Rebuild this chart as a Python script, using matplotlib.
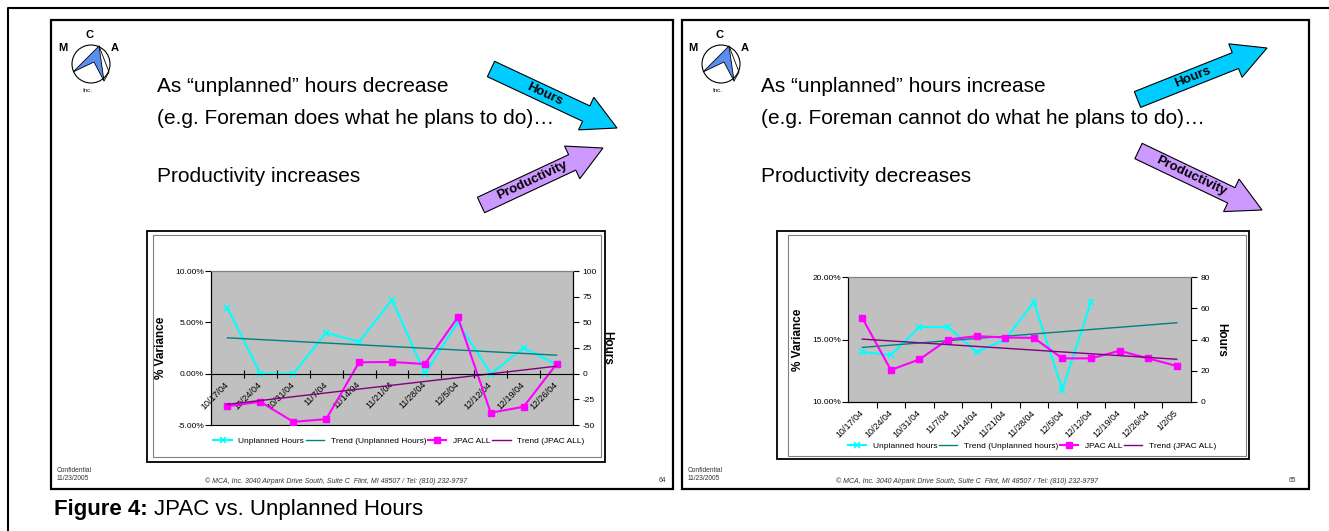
import numpy as np
import matplotlib
matplotlib.use("Agg")
import matplotlib.pyplot as plt
from matplotlib.patches import Rectangle, Circle, Polygon, FancyArrow

plt.rcParams["font.family"] = ["Liberation Sans", "DejaVu Sans"]

W, H = 1329, 531

# slide 64 data (weekly)
left_dates = ["10/17/04", "10/24/04", "10/31/04", "11/7/04", "11/14/04", "11/21/04",
              "11/28/04", "12/5/04", "12/12/04", "12/19/04", "12/26/04"]
left_unplanned = [64, 0, 0, 40, 31, 72, 0, 50, 0, 25, 9]
left_jpac = [-3.16, -2.74, -4.69, -4.43, 1.11, 1.14, 0.94, 5.50, -3.81, -3.22, 0.94]

# slide 65 data (weekly)
right_dates = ["10/17/04", "10/24/04", "10/31/04", "11/7/04", "11/14/04", "11/21/04",
               "11/28/04", "12/5/04", "12/12/04", "12/19/04", "12/26/04", "1/2/05"]
right_unplanned = [32, 30, 48, 48, 32, 40, 64, 8, 64, None, None, None]
right_jpac = [16.72, 12.56, 13.41, 15.00, 15.27, 15.16, 15.13, 13.49, 13.49, 14.10, 13.49, 12.88]

CYAN = "#00FFFF"
TEAL = "#008080"
MAGENTA = "#FF00FF"
PURPLE = "#800080"

fig = plt.figure(figsize=(W / 100, H / 100), dpi=100)
bg = fig.add_axes([0, 0, 1, 1])
bg.set_xlim(0, W)
bg.set_ylim(H, 0)
bg.axis("off")


def box(x0, y0, x1, y1, lw=1.5, color="black"):
    bg.add_patch(Rectangle((x0, y0), x1 - x0, y1 - y0, fill=False, lw=lw, ec=color))


def px_axes(x0, y0, x1, y1):
    return fig.add_axes([x0 / W, 1 - y1 / H, (x1 - x0) / W, (y1 - y0) / H])


def logo(ox):
    bg.add_patch(Circle((91 + ox, 64), 19, fill=False, lw=0.8, ec="black"))
    bg.add_patch(Polygon([(99 + ox, 46), (73 + ox, 72), (94 + ox, 62), (104 + ox, 81)],
                         closed=True, fc="#5B8DEF", ec="black", lw=0.6))
    bg.plot([99 + ox, 109 + ox, 104 + ox], [46, 72, 81], color="black", lw=0.6)
    bg.text(63 + ox, 48, "M", fontsize=8, fontweight="bold", ha="center", va="center")
    bg.text(89 + ox, 35, "C", fontsize=8, fontweight="bold", ha="center", va="center")
    bg.text(115 + ox, 48, "A", fontsize=8, fontweight="bold", ha="center", va="center")
    bg.text(87 + ox, 90, "Inc.", fontsize=4.5, ha="center", va="center")


def arrow(tail, tip, color, label, shaft=17, head_w=36, head_l=34):
    dx, dy = tip[0] - tail[0], tip[1] - tail[1]
    bg.add_patch(FancyArrow(tail[0], tail[1], dx, dy, width=shaft, head_width=head_w,
                            head_length=head_l, length_includes_head=True,
                            fc=color, ec="black", lw=0.8))
    L = np.hypot(dx, dy)
    frac = (L - head_l) / 2 / L + 0.05
    ang = -np.degrees(np.arctan2(dy, dx))
    bg.text(tail[0] + dx * frac, tail[1] + dy * frac, label, fontsize=9.5,
            fontweight="bold", rotation=ang, rotation_mode="anchor",
            ha="center", va="center")


def footer(ox, page, center):
    bg.text(57 + ox, 470, "Confidential", fontsize=4.8, color="#333333", va="center")
    bg.text(57 + ox, 478, "11/23/2005", fontsize=4.8, color="#333333", va="center")
    bg.text(center, 481, "\u00a9 MCA, Inc. 3040 Airpark Drive South, Suite C  Flint, MI 48507 / Tel: (810) 232-9797",
            fontsize=5, style="italic", color="#333333", ha="center", va="center")
    bg.text(page[0], 481, page[1], fontsize=4.8, color="#333333", ha="center", va="center")


def chart(frame, inner, plot, dates, unplanned, jpac, ylim, yticks, y2lim, y2ticks,
          zero_axis, names, legend_xy):
    box(*frame, lw=1.3)
    box(*inner, lw=0.8, color="#808080")
    ax = px_axes(*plot)
    ax2 = ax.twinx()
    ax.set_zorder(ax2.get_zorder() + 1)
    ax.patch.set_visible(False)
    ax2.patch.set_visible(True)
    ax2.set_facecolor("#C0C0C0")
    if zero_axis:
        # category axis crosses at 0 %
        ax.spines["bottom"].set_position(("data", 0))
        ax2.spines["bottom"].set_linewidth(1.2)
    n = len(dates)
    x = np.arange(n)

    uh = np.array([np.nan if v is None else v for v in unplanned], dtype=float)
    ok = ~np.isnan(uh)
    l1, = ax2.plot(x, uh, color=CYAN, lw=1.5, marker="x", ms=5, mew=1.2)
    c = np.polyfit(x[ok], uh[ok], 1)
    l2, = ax2.plot([0, n - 1], np.polyval(c, [0, n - 1]), color=TEAL, lw=1)

    jp = np.array(jpac, dtype=float)
    l3, = ax.plot(x, jp, color=MAGENTA, lw=1.5, marker="s", ms=4.5)
    c = np.polyfit(x, jp, 1)
    l4, = ax.plot([0, n - 1], np.polyval(c, [0, n - 1]), color=PURPLE, lw=1)

    for a in (ax, ax2):
        a.set_xlim(-0.5, n - 0.5)
        for s in a.spines.values():
            s.set_linewidth(0.8)
        a.spines["top"].set_color("#808080")
    ax.set_ylim(*ylim)
    ax.set_yticks(yticks)
    ax.set_yticklabels([f"{v:.2f}%" for v in yticks], fontsize=6)
    ax2.set_ylim(*y2lim)
    ax2.set_yticks(y2ticks)
    ax2.set_yticklabels([str(v) for v in y2ticks], fontsize=6)
    ax.tick_params(axis="y", direction="out", length=4, width=0.8, pad=1)
    ax2.tick_params(axis="y", direction="out", length=4, width=0.8, pad=3)
    ax.set_ylabel("% Variance", fontsize=8.5, fontweight="bold", labelpad=6)
    ax2.set_ylabel("Hours", fontsize=8.5, fontweight="bold", rotation=-90, labelpad=12)

    ax.set_xticks(x)
    ax.set_xticklabels(dates, fontsize=6.5, rotation=45, ha="right",
                       rotation_mode="anchor", va="center")
    ax.set_xticks(np.arange(0.5, n - 1, 1), minor=True)
    ax.tick_params(axis="x", which="major", length=0, pad=7)
    if zero_axis:
        ax.tick_params(axis="x", which="minor", direction="inout", length=6, width=0.8)
    else:
        ax.tick_params(axis="x", which="minor", direction="out", length=4, width=0.8)

    fig.legend([l1, l2, l3, l4], names, loc="center",
               bbox_to_anchor=(legend_xy[0] / W, 1 - legend_xy[1] / H), ncol=4,
               frameon=False, fontsize=6, handlelength=2.2, handletextpad=0.8,
               columnspacing=0.2, borderpad=0)


# outer frame
bg.plot([8, 8, W + 5], [H + 5, 8, 8], color="black", lw=1.5, clip_on=False)
box(51, 20, 673, 489, lw=1.6)
box(682, 20, 1309, 489, lw=1.6)

# slide 64
logo(0)
bg.text(157, 87, "As \u201cunplanned\u201d hours decrease", fontsize=15, va="center")
bg.text(157, 118, "(e.g. Foreman does what he plans to do)\u2026", fontsize=15, va="center")
bg.text(157, 176, "Productivity increases", fontsize=15, va="center")
arrow((491, 69), (617, 128), "#00CCFF", "Hours")
arrow((481, 205), (603, 148), "#CC99FF", "Productivity")
footer(0, (662, "64"), 336)
chart((147, 231, 605, 462), (153, 235, 601, 457), (211, 271, 573, 425),
      left_dates, left_unplanned, left_jpac, (-5, 10), [-5, 0, 5, 10],
      (-50, 100), [-50, -25, 0, 25, 50, 75, 100], True,
      ["Unplanned Hours", "Trend (Unplanned Hours)", "JPAC ALL", "Trend (JPAC ALL)"],
      (399, 441))

# slide 65
logo(630)
bg.text(761, 87, "As \u201cunplanned\u201d hours increase", fontsize=15, va="center")
bg.text(761, 118, "(e.g. Foreman cannot do what he plans to do)\u2026", fontsize=15, va="center")
bg.text(761, 176, "Productivity decreases", fontsize=15, va="center")
arrow((1137.5, 99.5), (1267, 48), "#00CCFF", "Hours")
arrow((1138.5, 151), (1262, 210), "#CC99FF", "Productivity")
footer(631, (1292, "65"), 967)
chart((777, 231, 1249, 459), (788, 235, 1246, 456), (848, 277, 1191, 402),
      right_dates, right_unplanned, right_jpac, (10, 20), [10, 15, 20],
      (0, 80), [0, 20, 40, 60, 80], False,
      ["Unplanned hours", "Trend (Unplanned hours)", "JPAC ALL", "Trend (JPAC ALL)"],
      (1032, 446))

# caption: bold label followed by regular title
cap = bg.text(54, 510, "Figure 4:", fontsize=16, fontweight="bold", va="center")
r = fig.canvas.get_renderer()
x_end = bg.transData.inverted().transform(cap.get_window_extent(r))[1, 0]
bg.text(x_end + 6, 510, "JPAC vs. Unplanned Hours", fontsize=16, va="center")

fig.savefig("out.png", dpi=100)
